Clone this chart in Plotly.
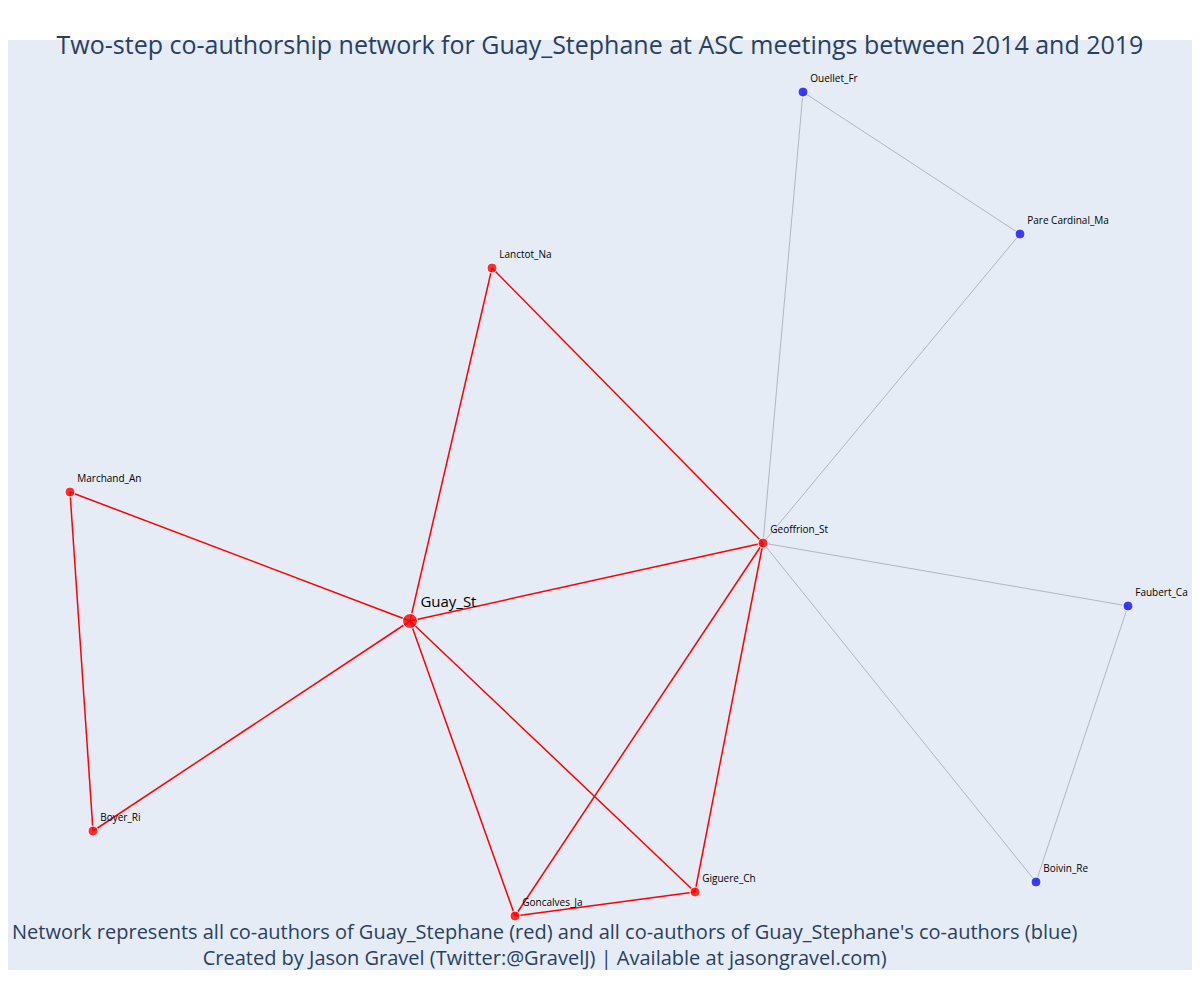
import plotly.graph_objects as go

# node positions (pixel-like layout coordinates)
names = ["Guay_St", "Geoffrion_St", "Lanctot_Na", "Marchand_An", "Boyer_Ri",
         "Goncalves_Ja", "Giguere_Ch", "Ouellet_Fr", "Pare Cardinal_Ma",
         "Faubert_Ca", "Boivin_Re"]
node_x = [410, 763, 492, 70, 93, 515, 695, 803, 1020, 1128, 1036]
node_y = [621, 543, 268, 492, 831, 916, 892, 92, 234, 606, 882]
node_group = ["focus", "red", "red", "red", "red", "red", "red",
              "blue", "blue", "blue", "blue"]

red_edges = [("Guay_St", "Lanctot_Na"), ("Guay_St", "Marchand_An"),
             ("Guay_St", "Boyer_Ri"), ("Guay_St", "Geoffrion_St"),
             ("Guay_St", "Goncalves_Ja"), ("Guay_St", "Giguere_Ch"),
             ("Lanctot_Na", "Geoffrion_St"), ("Marchand_An", "Boyer_Ri"),
             ("Geoffrion_St", "Goncalves_Ja"), ("Geoffrion_St", "Giguere_Ch"),
             ("Goncalves_Ja", "Giguere_Ch")]
grey_edges = [("Geoffrion_St", "Ouellet_Fr"), ("Ouellet_Fr", "Pare Cardinal_Ma"),
              ("Pare Cardinal_Ma", "Geoffrion_St"), ("Geoffrion_St", "Faubert_Ca"),
              ("Faubert_Ca", "Boivin_Re"), ("Boivin_Re", "Geoffrion_St")]

pos = {n: (x, y) for n, x, y in zip(names, node_x, node_y)}


def edge_xy(edges):
    xs, ys = [], []
    for a, b in edges:
        xs += [pos[a][0], pos[b][0], None]
        ys += [pos[a][1], pos[b][1], None]
    return xs, ys


fig = go.Figure()

gx, gy = edge_xy(grey_edges)
fig.add_trace(go.Scatter(x=gx, y=gy, mode="lines",
                         line=dict(color="#b4b4c4", width=1), hoverinfo="none"))
rx, ry = edge_xy(red_edges)
fig.add_trace(go.Scatter(x=rx, y=ry, mode="lines",
                         line=dict(color="red", width=1.5), hoverinfo="none"))

for grp, col, size, fsize in [("blue", "rgba(0,0,255,0.75)", 10, 10),
                              ("red", "rgba(255,0,0,0.8)", 10, 10),
                              ("focus", "rgba(255,0,0,0.8)", 15, 15)]:
    idx = [i for i, g in enumerate(node_group) if g == grp]
    fig.add_trace(go.Scatter(
        x=[node_x[i] for i in idx], y=[node_y[i] for i in idx],
        text=[names[i] for i in idx], mode="markers+text",
        textposition="top right", textfont=dict(size=fsize, color="black"),
        marker=dict(color=col, size=size, line=dict(color="white", width=1)),
        hoverinfo="text"))

fig.update_layout(
    showlegend=False,
    title=dict(text="Two-step co-authorship network for Guay_Stephane at ASC meetings between 2014 and 2019",
               x=0.5, xanchor="center", y=0.962, yanchor="middle",
               font=dict(size=25)),
    margin=dict(l=0, r=0, t=32, b=22),
    xaxis=dict(range=[8, 1192], visible=False, showgrid=False, zeroline=False),
    yaxis=dict(range=[970, 40], visible=False, showgrid=False, zeroline=False),
    annotations=[dict(
        text="Network represents all co-authors of Guay_Stephane (red) and all co-authors of Guay_Stephane's co-authors (blue)<br>Created by Jason Gravel (Twitter:@GravelJ) | Available at jasongravel.com)",
        xref="paper", yref="paper", x=0.0015, y=0.0, xanchor="left", yanchor="bottom",
        yshift=-3, showarrow=False, align="center", font=dict(size=20))],
)

fig.write_html("out.html")
